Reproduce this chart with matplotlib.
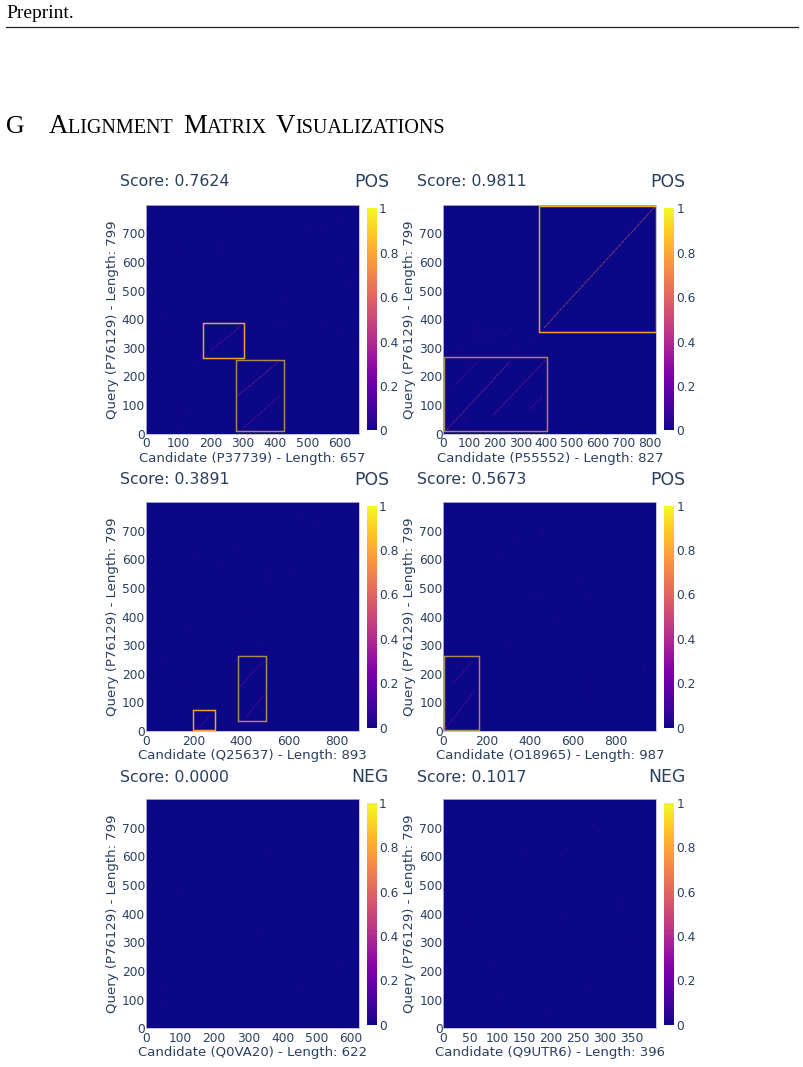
import numpy as np
import matplotlib
matplotlib.use('Agg')
import matplotlib.pyplot as plt
from matplotlib.patches import Rectangle

W, H = 804, 1067
INK = '#2a3f5f'
ORANGE = '#eda72a'
MUTED = '#ad8658'

query_len = 799
candidates = ['P37739', 'P55552', 'Q25637', 'O18965', 'Q0VA20', 'Q9UTR6']
lengths = [657, 827, 893, 987, 622, 396]
scores = ['0.7624', '0.9811', '0.3891', '0.5673', '0.0000', '0.1017']
labels = ['POS', 'POS', 'POS', 'POS', 'NEG', 'NEG']
x_ticks = [range(0, 601, 100), range(0, 801, 100), range(0, 801, 200),
           range(0, 801, 200), range(0, 601, 100), range(0, 351, 50)]
y_ticks = range(0, 701, 100)
cbar_ticks = [0, 0.2, 0.4, 0.6, 0.8, 1]
cbar_labels = ['0', '0.2', '0.4', '0.6', '0.8', '1']

# alignment boxes: x0, x1, y0, y1, colour
boxes = [
    [(178, 302, 265, 386, ORANGE), (279, 428, 9, 257, MUTED)],
    [(371, 824, 354, 797, ORANGE), (4, 404, 9, 268, MUTED)],
    [(197, 289, 2, 72, ORANGE), (387, 506, 34, 262, MUTED)],
    [(5, 167, 3, 262, MUTED)],
    [],
    [],
]

# bright diagonals: x0, y0, x1, y1, value
diagonals = [
    [(203, 292, 291, 374, 0.34), (284, 132, 407, 249, 0.40), (301, 19, 414, 133, 0.32)],
    [(391, 370, 822, 793, 0.66), (13, 13, 259, 252, 0.42), (194, 65, 397, 257, 0.36),
     (45, 170, 129, 249, 0.26), (336, 86, 384, 129, 0.32)],
    [(228, 15, 277, 62, 0.28), (395, 155, 490, 242, 0.30), (423, 50, 496, 126, 0.28)],
    [(8, 6, 142, 137, 0.30), (46, 166, 132, 242, 0.28)],
    [],
    [],
]

# faint isolated cells: x, y, value
speckle_x = [
    [95, 105, 140, 150, 70, 160, 175, 230, 265, 430, 415, 500, 545, 605, 640, 620, 550, 590, 610, 60, 115],
    [85, 110, 135, 165, 195, 240, 290, 340, 205, 60, 150, 260, 120],
    [380, 220, 640, 710, 505, 180, 70, 300, 470, 160, 600, 430],
    [340, 460, 640, 660, 455, 930, 250, 410, 530, 300, 660],
    [50, 28, 60, 330, 460, 570, 110, 350],
    [330, 95, 230, 150, 290, 45, 230, 350, 265, 200, 110],
]
speckle_y = [
    [10, 90, 70, 255, 360, 340, 290, 650, 770, 470, 375, 730, 720, 740, 760, 530, 385, 600, 360, 400, 640],
    [55, 340, 370, 325, 340, 350, 310, 320, 365, 300, 345, 360, 330],
    [640, 615, 740, 720, 540, 365, 250, 590, 310, 170, 560, 410],
    [660, 700, 520, 480, 470, 215, 620, 480, 380, 300, 150],
    [130, 8, 85, 330, 150, 220, 480, 620],
    [435, 215, 625, 625, 690, 355, 400, 310, 150, 45, 120],
]
speckle_v = [
    [0.08, 0.07, 0.07, 0.06, 0.07, 0.05, 0.07, 0.08, 0.07, 0.08, 0.08, 0.07, 0.07, 0.07, 0.06, 0.05, 0.10, 0.06, 0.05, 0.06, 0.05],
    [0.10, 0.08, 0.10, 0.08, 0.09, 0.08, 0.08, 0.09, 0.08, 0.07, 0.08, 0.09, 0.08],
    [0.08, 0.09, 0.07, 0.07, 0.10, 0.10, 0.05, 0.05, 0.07, 0.07, 0.05, 0.05],
    [0.07, 0.10, 0.08, 0.08, 0.08, 0.10, 0.07, 0.08, 0.05, 0.05, 0.05],
    [0.08, 0.10, 0.07, 0.05, 0.05, 0.05, 0.05, 0.05],
    [0.16, 0.09, 0.08, 0.07, 0.08, 0.05, 0.08, 0.07, 0.07, 0.07, 0.07],
]

# pixel frames of the heatmaps and colour bars
col_left = [145.7, 443.3]
col_right = [358.7, 656.3]
cbar_left = [366.7, 664.0]
cbar_right = [376.7, 674.3]
row_top = [205.0, 502.3, 799.3]
row_bottom = [433.7, 731.0, 1028.3]
title_y = [181.7, 480.0, 777.0]
title_left = [120.0, 417.5]
title_right = [389.0, 685.5]
xlabel_y = [458.0, 755.5, 1052.5]
ylabel_x = [112.5, 409.5]

cmap = plt.get_cmap('plasma')
plt.rcParams['font.family'] = 'DejaVu Sans'
fig = plt.figure(figsize=(W / 100, H / 100), dpi=100)


def px_axes(left, right, top, bottom):
    return fig.add_axes([left / W, 1 - bottom / H, (right - left) / W, (bottom - top) / H])


def fx(x):
    return x / W


def fy(y):
    return 1 - y / H


# page header and section heading
fig.text(fx(6), fy(13.5), 'Preprint.', family='Liberation Serif', fontsize=14,
         color='black', va='center')
fig.add_artist(plt.Line2D([fx(6), fx(798)], [fy(27), fy(27)], color='#222222', lw=0.9))
fig.text(fx(6), fy(133), 'G', family='Liberation Serif', fontsize=18.5, color='black', va='baseline')

renderer = fig.canvas.get_renderer()
heading = [('A', 19.4), ('LIGNMENT ', 14.5), ('M', 19.4), ('ATRIX ', 14.5), ('V', 19.4), ('ISUALIZATIONS', 14.5)]
cursor = 49.0
for chunk, size in heading:
    t = fig.text(fx(cursor), fy(133), chunk, family='Liberation Serif', fontsize=size,
                 color='black', va='baseline')
    # trailing spaces are not measured, so add them by hand
    extra = size * 0.25 * 100 / 72 if chunk.endswith(' ') else 0
    cursor = t.get_window_extent(renderer).x1 + extra

for i, cand in enumerate(candidates):
    row, col = i // 2, i % 2
    ax = px_axes(col_left[col], col_right[col], row_top[row], row_bottom[row])
    matrix = np.zeros((query_len, lengths[i]))
    im = ax.imshow(matrix, cmap=cmap, vmin=0, vmax=1, origin='lower', aspect='auto',
                   extent=[0, lengths[i], 0, query_len], interpolation='nearest')

    ax.scatter(speckle_x[i], speckle_y[i], c=speckle_v[i], cmap=cmap, vmin=0, vmax=1,
               s=2, marker='s', linewidths=0, alpha=0.45)
    for x0, y0, x1, y1, v in diagonals[i]:
        ax.plot([x0, x1], [y0, y1], color=cmap(v), lw=0.55, ls=(0, (5, 1)), alpha=0.6)
    for x0, x1, y0, y1, c in boxes[i]:
        ax.add_patch(Rectangle((x0, y0), x1 - x0, y1 - y0, fill=False, ec=c, lw=1.05))

    ax.set_xlim(0, lengths[i])
    ax.set_ylim(0, query_len)
    ax.set_xticks(list(x_ticks[i]))
    ax.set_yticks(list(y_ticks))
    ax.tick_params(length=0, labelsize=8.8, labelcolor=INK)
    ax.tick_params(axis='x', pad=2.6)
    ax.tick_params(axis='y', pad=0.5)
    for s in ax.spines.values():
        s.set_color('#b9b9dc')
        s.set_linewidth(0.6)

    fig.text(fx((col_left[col] + col_right[col]) / 2), fy(xlabel_y[row]),
             'Candidate (%s) - Length: %d' % (cand, lengths[i]),
             fontsize=9.55, color=INK, ha='center', va='center')
    fig.text(fx(ylabel_x[col]), fy((row_top[row] + row_bottom[row]) / 2),
             'Query (P76129) - Length: %d' % query_len,
             fontsize=9.5, color=INK, ha='center', va='center', rotation=90)
    fig.text(fx(title_left[col]), fy(title_y[row]), 'Score: ' + scores[i],
             fontsize=11.3, color=INK, ha='left', va='center')
    fig.text(fx(title_right[col]), fy(title_y[row]), labels[i],
             fontsize=12.4, color=INK, ha='right', va='center')

    cax = px_axes(cbar_left[col], cbar_right[col], row_top[row] + 3.4, row_bottom[row] - 3.4)
    cb = fig.colorbar(im, cax=cax, ticks=cbar_ticks)
    cb.ax.set_yticklabels(cbar_labels)
    cb.ax.tick_params(length=0, pad=1.5, labelsize=8.8, labelcolor=INK)
    cb.outline.set_visible(False)

fig.savefig('out.png', dpi=100)
